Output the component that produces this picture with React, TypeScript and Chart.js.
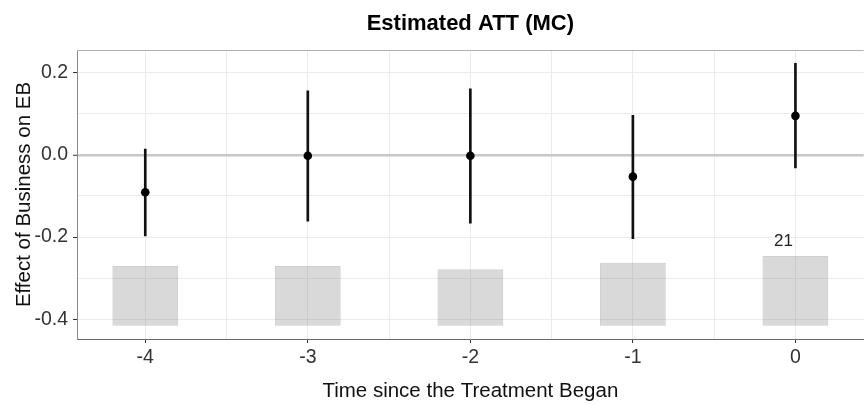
import React, { useEffect, useRef } from "react";
import { Chart, registerables } from "chart.js";

Chart.register(...registerables);

// ---- data ----
const periods = [-4, -3, -2, -1, 0];
const att = [-0.091, -0.002, -0.002, -0.053, 0.095];
const ciLower = [-0.197, -0.161, -0.166, -0.204, -0.032];
const ciUpper = [0.014, 0.156, 0.161, 0.096, 0.223];
const counts = [18, 18, 17, 19, 21];
const xTickLabels = ["-4", "-3", "-2", "-1", "0"];
const yTickValues = [-0.4, -0.2, 0.0, 0.2];
const yTickLabels = ["-0.4", "-0.2", "0.0", "0.2"];

const titleText = "Estimated ATT (MC)";
const xTitle = "Time since the Treatment Began";
const yTitle = "Effect of Business on EB";

// count bars are drawn as a strip at the bottom of the panel
const countBase = -0.416;
const countMaxHeight = 0.17;
const countBarWidth = 0.405; // in x units
const xGridStep = 0.5;

const FONT = "'Liberation Sans', Arial, Helvetica, sans-serif";

const isMultiple = (v: number, step: number) => Math.abs(v / step - Math.round(v / step)) < 1e-6;

const overlayPlugin = {
  id: "overlay",
  afterDraw(chart: any) {
    const { ctx, chartArea, scales } = chart;
    const cx = (chartArea.left + chartArea.right) / 2;
    ctx.save();
    // top border
    ctx.strokeStyle = "#b0b0b0";
    ctx.lineWidth = 1;
    ctx.beginPath();
    ctx.moveTo(chartArea.left, Math.round(chartArea.top) + 0.5);
    ctx.lineTo(chartArea.right, Math.round(chartArea.top) + 0.5);
    ctx.stroke();

    // title
    ctx.fillStyle = "#000";
    ctx.textAlign = "center";
    ctx.textBaseline = "alphabetic";
    ctx.font = `bold 22px ${FONT}`;
    ctx.fillText(titleText, cx, 30);

    // x title
    ctx.fillStyle = "#111";
    ctx.font = `20.5px ${FONT}`;
    ctx.fillText(xTitle, cx, 397);

    // y title
    ctx.save();
    ctx.translate(30, (chartArea.top + chartArea.bottom) / 2);
    ctx.rotate(-Math.PI / 2);
    ctx.fillText(yTitle, 0, 0);
    ctx.restore();

    // count label above largest bar
    let maxIdx = 0;
    counts.forEach((c, i) => {
      if (c > counts[maxIdx]) maxIdx = i;
    });
    const top = countBase + (counts[maxIdx] / Math.max(...counts)) * countMaxHeight;
    const px = scales.x.getPixelForValue(periods[maxIdx]) - 12;
    const py = scales.y.getPixelForValue(top) - 10;
    ctx.font = `17px ${FONT}`;
    ctx.fillStyle = "#222";
    ctx.fillText(String(counts[maxIdx]), px, py);
    ctx.restore();
  },
};

export default function App() {
  const canvasRef = useRef<HTMLCanvasElement | null>(null);

  useEffect(() => {
    document.body.style.margin = "0";
    const canvas = canvasRef.current;
    if (!canvas) return;
    const maxCount = Math.max(...counts);

    const chart = new Chart(canvas, {
      type: "bar",
      data: {
        datasets: [
          {
            type: "scatter",
            label: "ATT",
            data: periods.map((p, i) => ({ x: p, y: att[i] })),
            backgroundColor: "#000",
            borderColor: "#000",
            pointRadius: 4.3,
            pointBorderWidth: 0,
          } as any,
          {
            type: "bar",
            label: "CI",
            data: periods.map((p, i) => ({ x: p, y: [ciLower[i], ciUpper[i]] })),
            backgroundColor: "#111",
            borderWidth: 0,
            barThickness: 2,
            grouped: false,
          } as any,
          {
            type: "bar",
            label: "Count",
            data: periods.map((p, i) => ({
              x: p,
              y: [countBase, countBase + (counts[i] / maxCount) * countMaxHeight],
            })),
            backgroundColor: "rgba(128,128,128,0.3)",
            borderColor: "rgba(150,150,150,0.45)",
            borderWidth: 1,
            borderSkipped: false,
            categoryPercentage: 1,
            // the bar ruler uses the smallest gap (grid step), so scale the width to it
            barPercentage: countBarWidth / xGridStep,
            grouped: false,
          } as any,
        ],
      },
      options: {
        responsive: false,
        animation: false,
        devicePixelRatio: 1,
        layout: { padding: { top: 50, left: 0, right: 0, bottom: 0 } },
        plugins: {
          legend: { display: false },
          title: { display: false },
          tooltip: { enabled: false },
        },
        scales: {
          x: {
            type: "linear",
            min: -4.42,
            max: 0.42,
            offset: false,
            afterFit: (s: any) => {
              s.height = 66;
            },
            border: { display: true, color: "#6a6a6a", width: 1 },
            grid: {
              offset: false,
              color: "#ebebeb",
              lineWidth: 1,
              drawTicks: true,
              tickLength: 4,
              tickWidth: 1,
              tickColor: (c: any) =>
                c.tick && isMultiple(c.tick.value, 1) ? "#333" : "rgba(0,0,0,0)",
            },
            ticks: {
              stepSize: xGridStep,
              includeBounds: false,
              autoSkip: false,
              maxRotation: 0,
              padding: 3,
              color: "#333",
              font: { family: FONT, size: 19.5 },
              callback: (v: any) => {
                const idx = periods.indexOf(Math.round(Number(v) * 1000) / 1000);
                return isMultiple(Number(v), 1) && idx >= 0 ? xTickLabels[idx] : "";
              },
            },
          },
          y: {
            type: "linear",
            min: -0.448,
            max: 0.2552,
            beginAtZero: false,
            afterFit: (s: any) => {
              s.width = 77;
            },
            border: { display: true, color: "#8a8a8a", width: 1 },
            grid: {
              color: (c: any) =>
                c.tick && Math.abs(c.tick.value) < 1e-6 ? "#c8c8c8" : "#ebebeb",
              lineWidth: (c: any) => (c.tick && Math.abs(c.tick.value) < 1e-6 ? 2.5 : 1),
              drawTicks: true,
              tickLength: 4,
              tickWidth: 1,
              tickColor: (c: any) =>
                c.tick && isMultiple(c.tick.value, 0.2) ? "#333" : "rgba(0,0,0,0)",
            },
            ticks: {
              stepSize: 0.1,
              includeBounds: false,
              autoSkip: false,
              padding: 5,
              color: "#333",
              font: { family: FONT, size: 19.5 },
              callback: (v: any) => {
                const n = Number(v);
                const idx = yTickValues.findIndex((t) => Math.abs(t - n) < 1e-6);
                return idx >= 0 ? yTickLabels[idx] : "";
              },
            },
          },
        },
      },
      plugins: [overlayPlugin],
    });
    return () => chart.destroy();
  }, []);

  return (
    <div style={{ width: 865, height: 405, overflow: "hidden", position: "relative", background: "#fff" }}>
      <canvas ref={canvasRef} width={868} height={405} style={{ display: "block", width: 868, height: 405 }} />
    </div>
  );
}
